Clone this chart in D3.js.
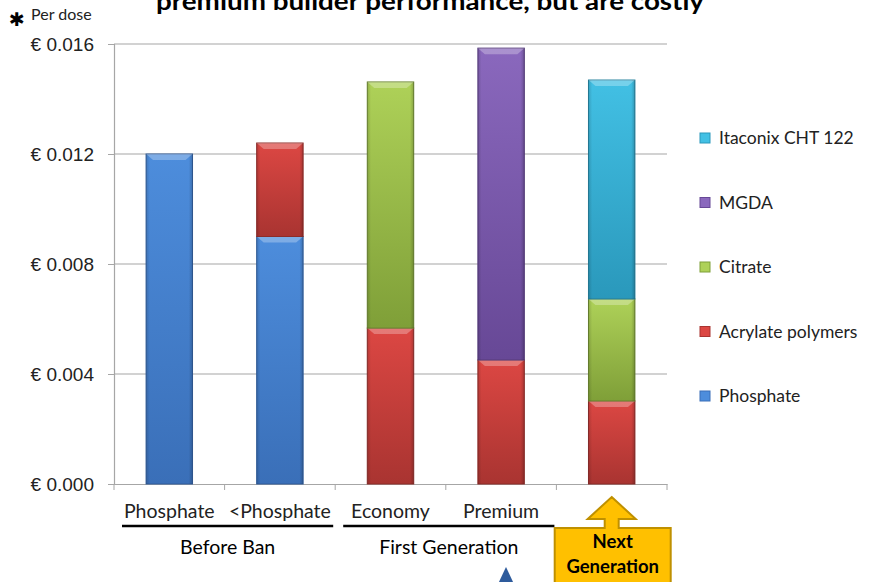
<!DOCTYPE html>
<html>
<head>
<meta charset="utf-8">
<script src="https://cdn.jsdelivr.net/npm/d3@7"></script>
<style>
  body { margin: 0; background: #fff; }
  svg { font-family: Lato, "Open Sans", sans-serif; }
</style>
</head>
<body>
<script>
// categories and series (cost per dose, EUR)
var categories = ['Phosphate', '<Phosphate', 'Economy', 'Premium', 'Next'];
var categoryLabels = ['Phosphate', '<Phosphate', 'Economy', 'Premium', ''];
var series = ['Phosphate', 'Acrylate polymers', 'Citrate', 'MGDA', 'Itaconix CHT 122'];
var phosphate = [0.0120, 0.0090, 0, 0, 0];
var acrylate = [0, 0.0034, 0.00567, 0.00451, 0.00302];
var citrate = [0, 0, 0.00895, 0, 0.00371];
var mgda = [0, 0, 0, 0.01134, 0];
var itaconix = [0, 0, 0, 0, 0.00796];
var yTicks = [0, 0.004, 0.008, 0.012, 0.016];
var groups = [
  {label: 'Before Ban', from: 'Phosphate', to: '<Phosphate'},
  {label: 'First Generation', from: 'Economy', to: 'Premium'}
];

var colors = {
  'Phosphate': ['#4d8ddc', '#3a6fb8'],
  'Acrylate polymers': ['#dc4743', '#a93431'],
  'Citrate': ['#aed158', '#7f9f38'],
  'MGDA': ['#8a68bd', '#674896'],
  'Itaconix CHT 122': ['#42c0e4', '#2a98bb']
};

var W = 877, H = 582;
var margin = {left: 114, right: 210, top: 44, bottom: 98};

var svg = d3.select('body').append('svg')
  .attr('width', W)
  .attr('height', H);

var defs = svg.append('defs');
series.forEach(function(s, i) {
  var g = defs.append('linearGradient')
    .attr('id', 'grad' + i)
    .attr('x1', 0).attr('y1', 0).attr('x2', 0).attr('y2', 1);
  g.append('stop').attr('offset', '0%').attr('stop-color', colors[s][0]);
  g.append('stop').attr('offset', '100%').attr('stop-color', colors[s][1]);
  var h = defs.append('linearGradient')
    .attr('id', 'side' + i)
    .attr('x1', 0).attr('y1', 0).attr('x2', 1).attr('y2', 0);
  h.append('stop').attr('offset', '0%').attr('stop-color', '#000').attr('stop-opacity', 0.15);
  h.append('stop').attr('offset', '8%').attr('stop-color', '#000').attr('stop-opacity', 0);
  h.append('stop').attr('offset', '92%').attr('stop-color', '#000').attr('stop-opacity', 0);
  h.append('stop').attr('offset', '100%').attr('stop-color', '#000').attr('stop-opacity', 0.2);
});

// SCALES
var x = d3.scaleBand()
  .domain(categories)
  .range([margin.left, W - margin.right])
  .paddingInner(0.58)
  .paddingOuter(0.29);

var xOuter = d3.scaleBand()
  .domain(categories)
  .range([margin.left, W - margin.right]);

var y = d3.scaleLinear()
  .domain([0, 0.016])
  .range([H - margin.bottom, margin.top]);

// GRID
svg.append('g')
  .selectAll('line')
  .data(yTicks.slice(1))
  .enter().append('line')
    .attr('x1', margin.left)
    .attr('x2', W - margin.right)
    .attr('y1', d => y(d))
    .attr('y2', d => y(d))
    .attr('stroke', '#a6a6a6')
    .attr('stroke-width', 1.2);

// AXES
var yAxis = d3.axisLeft(y)
  .tickValues(yTicks)
  .tickSize(6)
  .tickPadding(14)
  .tickFormat(d => '€ ' + d3.format('.3f')(d));

var gy = svg.append('g')
  .attr('transform', `translate(${margin.left},0)`)
  .call(yAxis);
gy.select('.domain').attr('stroke', '#a6a6a6').attr('stroke-width', 1.2);
gy.selectAll('.tick line').attr('stroke', '#a6a6a6');
gy.selectAll('.tick text').attr('font-size', 19).attr('fill', '#222');

var xAxis = d3.axisBottom(xOuter)
  .tickSize(0)
  .tickFormat('');
var gx = svg.append('g')
  .attr('transform', `translate(0,${H - margin.bottom})`)
  .call(xAxis);
gx.select('.domain').attr('stroke', '#a6a6a6').attr('stroke-width', 1.2);
// category boundary ticks
gx.selectAll('.bound')
  .data(categories.concat(['end']))
  .enter().append('line')
    .attr('x1', (d, i) => margin.left + i * xOuter.bandwidth())
    .attr('x2', (d, i) => margin.left + i * xOuter.bandwidth())
    .attr('y1', 0).attr('y2', 6)
    .attr('stroke', '#a6a6a6');

// BARS
var rows = categories.map(function(c, i) {
  return {cat: c, 'Phosphate': phosphate[i], 'Acrylate polymers': acrylate[i],
    'Citrate': citrate[i], 'MGDA': mgda[i], 'Itaconix CHT 122': itaconix[i]};
});
var stacked = d3.stack().keys(series)(rows);

var layers = svg.append('g').selectAll('g')
  .data(stacked)
  .enter().append('g');

layers.each(function(layer, si) {
  var segs = layer.filter(d => d[1] - d[0] > 0);
  var g = d3.select(this).selectAll('g').data(segs).enter().append('g');
  g.append('rect')
    .attr('x', d => x(d.data.cat))
    .attr('y', d => y(d[1]))
    .attr('width', x.bandwidth())
    .attr('height', d => y(d[0]) - y(d[1]))
    .attr('fill', 'url(#grad' + si + ')')
    .attr('stroke', d3.color(colors[series[si]][1]).darker(0.5))
    .attr('stroke-width', 1);
  g.append('rect')
    .attr('x', d => x(d.data.cat))
    .attr('y', d => y(d[1]))
    .attr('width', x.bandwidth())
    .attr('height', d => y(d[0]) - y(d[1]))
    .attr('fill', 'url(#side' + si + ')');
  // top bevel highlight
  g.append('path')
    .attr('d', function(d) {
      var x0 = x(d.data.cat), x1 = x0 + x.bandwidth(), t = y(d[1]);
      return `M${x0},${t}L${x1},${t}L${x1 - 7},${t + 6}L${x0 + 7},${t + 6}Z`;
    })
    .attr('fill', '#fff')
    .attr('opacity', 0.28);
});

// CATEGORY LABELS
svg.append('g').selectAll('text')
  .data(categories)
  .enter().append('text')
    .attr('x', d => xOuter(d) + xOuter.bandwidth() / 2)
    .attr('y', 518)
    .attr('text-anchor', 'middle')
    .attr('font-size', 19.5)
    .attr('fill', '#222')
    .text((d, i) => categoryLabels[i]);

// GROUP BRACKETS
groups.forEach(function(gr) {
  var gx0 = xOuter(gr.from) + 8, gx1 = xOuter(gr.to) + xOuter.bandwidth() - 2;
  svg.append('line')
    .attr('x1', gx0).attr('x2', gx1)
    .attr('y1', 526).attr('y2', 526)
    .attr('stroke', '#000').attr('stroke-width', 2.5);
  svg.append('text')
    .attr('x', (gx0 + gx1) / 2)
    .attr('y', 554)
    .attr('text-anchor', 'middle')
    .attr('font-size', 19.5)
    .attr('fill', '#000')
    .text(gr.label);
});

// NEXT GENERATION CALLOUT
var cx = xOuter('Next') + xOuter.bandwidth() / 2;
svg.append('path')
  .attr('d', `M${cx},497 L${cx + 24},519 L${cx + 7},519 L${cx + 7},528 L${cx + 59},528 L${cx + 59},590 L${cx - 57},590 L${cx - 57},528 L${cx - 7},528 L${cx - 7},519 L${cx - 24},519 Z`)
  .attr('fill', '#ffc000')
  .attr('stroke', '#bf9000')
  .attr('stroke-width', 2);
svg.append('text')
  .attr('x', cx + 1).attr('y', 548)
  .attr('text-anchor', 'middle')
  .attr('font-size', 18.5).attr('font-weight', 'bold')
  .text('Next');
svg.append('text')
  .attr('x', cx + 1).attr('y', 573)
  .attr('text-anchor', 'middle')
  .attr('font-size', 18.5).attr('font-weight', 'bold')
  .text('Generation');

// blue marker at the bottom edge
svg.append('path')
  .attr('d', 'M506,567 L514,584 L498,584 Z')
  .attr('fill', '#2e5b9c');

// LEGEND
var legend = svg.append('g')
  .attr('transform', 'translate(700,0)');
var legendY = d3.scalePoint()
  .domain(series.slice().reverse())
  .range([138, 396]);
var li = legend.selectAll('g')
  .data(series.slice().reverse())
  .enter().append('g')
    .attr('transform', d => `translate(0,${legendY(d)})`);
li.append('rect')
  .attr('x', 0).attr('y', -5)
  .attr('width', 10).attr('height', 10)
  .attr('fill', d => colors[d][0])
  .attr('stroke', d => colors[d][1]);
li.append('text')
  .attr('x', 19).attr('y', 6)
  .attr('font-size', 17.5)
  .attr('fill', '#222')
  .text(d => d);

// TITLE (cut at top)
svg.append('text')
  .attr('x', 430).attr('y', 10)
  .attr('text-anchor', 'middle')
  .attr('font-size', 24).attr('font-weight', 'bold')
  .attr('textLength', 548)
  .attr('lengthAdjust', 'spacingAndGlyphs')
  .text('premium builder performance, but are costly');

svg.append('text')
  .attr('x', 9).attr('y', 26)
  .attr('font-family', 'DejaVu Sans')
  .attr('font-size', 19)
  .attr('font-weight', 'bold')
  .text('✱');
svg.append('text')
  .attr('x', 31).attr('y', 20)
  .attr('font-size', 16)
  .attr('fill', '#222')
  .text('Per dose');
</script>
</body>
</html>
